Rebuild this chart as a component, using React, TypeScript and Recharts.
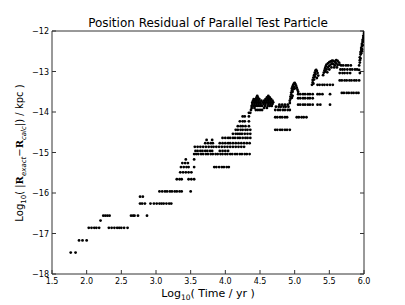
import { ScatterChart, Scatter, XAxis, YAxis } from 'recharts';

const X_TICKS = [1.5, 2.0, 2.5, 3.0, 3.5, 4.0, 4.5, 5.0, 5.5, 6.0];
const Y_TICKS = [-18, -17, -16, -15, -14, -13, -12];

// residuals sit on discrete levels: [log10 residual, log10 times...]
const earlyRuns: [number, number[]][] = [
  [-17.47, [1.77, 1.84]],
  [-17.17, [1.89, 1.94, 2.0]],
  [-16.86, [2.03, 2.07, 2.11, 2.14, 2.18, 2.32, 2.36, 2.4, 2.44, 2.47, 2.5, 2.54, 2.59]],
  [-16.68, [2.2]],
  [-16.56, [2.24, 2.27, 2.3, 2.33, 2.64, 2.67, 2.69, 2.74, 2.87]],
  [-16.26, [2.77, 2.8, 2.84, 2.92, 2.97, 3.01, 3.05, 3.08, 3.11, 3.15, 3.19, 3.22]],
  [-16.09, [2.77, 2.81]],
  [-15.96, [3.05, 3.09, 3.13, 3.16, 3.2, 3.23, 3.27, 3.3, 3.34, 3.37, 3.5]],
];

const midRuns: [number, number[]][] = [
  [-15.66, [3.3, 3.34, 3.37, 3.47, 3.51, 3.55]],
  [-15.49, [3.35, 3.39, 3.43, 3.47, 3.51]],
  [-15.36, [3.36, 3.4, 3.44, 3.47, 3.55, 3.84, 3.87, 3.91, 3.95, 3.98, 4.02, 4.05]],
  [-15.26, [3.38, 3.42, 3.46]],
  [-15.17, [3.43, 3.55]],
  [-15.04, [3.55, 3.58, 3.61, 3.65, 3.68, 3.72, 3.75, 3.79, 3.82, 3.86, 3.89, 3.93, 3.96, 4.0, 4.03, 4.07, 4.1, 4.14, 4.17, 4.21, 4.24, 4.28, 4.31, 4.35]],
  [-14.96, [3.57, 3.6, 3.64, 3.67, 3.71, 3.74, 3.78, 3.81, 3.92, 3.96, 4.0, 4.04]],
  [-14.86, [3.56, 3.6, 3.64, 3.68, 3.72, 3.76, 3.8, 3.83, 3.87, 3.91, 3.95, 3.99, 4.03, 4.07, 4.11, 4.15, 4.19, 4.23, 4.27]],
  [-14.77, [3.71, 3.75, 3.79, 3.82, 3.92, 3.96, 4.0, 4.04, 4.07, 4.11, 4.15, 4.19, 4.23, 4.27, 4.31, 4.35]],
  [-14.69, [3.73, 3.81]],
  [-14.64, [3.96, 4.0, 4.04, 4.07, 4.11, 4.14, 4.18, 4.21, 4.25, 4.29, 4.32, 4.36]],
  [-14.54, [4.11, 4.15, 4.18, 4.21, 4.24, 4.28, 4.32, 4.36]],
  [-14.44, [4.15, 4.18, 4.22, 4.25, 4.29, 4.32, 4.36]],
  [-14.35, [4.18, 4.22, 4.25, 4.29, 4.34]],
  [-14.23, [4.21, 4.25, 4.28, 4.34]],
  [-14.11, [4.25, 4.28, 4.34]],
  [-14.02, [4.34, 4.36]],
];

const lateRuns: [number, number[]][] = [
  [-14.44, [4.72, 4.75, 4.79, 4.82, 4.86, 4.89, 4.93]],
  [-14.13, [4.72, 4.75, 4.79, 4.82, 4.86, 4.89, 5.03, 5.06, 5.1, 5.13, 5.17]],
  [-13.95, [4.37, 4.44, 4.47, 4.5, 4.53, 4.72, 4.76, 4.79, 4.83, 4.86, 4.9, 4.93]],
  [-13.9, [4.38, 4.42, 4.56, 4.6]],
  [-13.87, [4.73, 4.77, 4.8, 4.84, 4.87, 4.91]],
  [-13.85, [4.38, 4.41, 4.44, 4.47, 4.5, 4.53, 4.57, 4.61, 4.64, 4.67]],
  [-13.82, [4.78, 4.82, 4.86, 4.9, 5.05, 5.08, 5.12, 5.15, 5.19, 5.22, 5.26, 5.33, 5.37, 5.51]],
  [-13.8, [4.39, 4.42, 4.45, 4.48, 4.51, 4.55, 4.58, 4.62, 4.65, 4.68]],
  [-13.76, [4.39, 4.42, 4.44, 4.47, 4.5, 4.54, 4.57, 4.6, 4.63, 4.66, 4.69]],
  [-13.72, [4.4, 4.43, 4.45, 4.48, 4.52, 4.56, 4.59, 4.62, 4.65, 4.68]],
  [-13.68, [4.41, 4.44, 4.46, 4.49, 4.58, 4.61, 4.63, 4.66]],
  [-13.66, [5.05, 5.08, 5.12, 5.15, 5.19, 5.22, 5.26]],
  [-13.64, [4.45, 4.47, 4.6, 4.62, 4.64]],
  [-13.6, [4.46, 4.62]],
  [-13.56, [5.05, 5.08, 5.12, 5.15, 5.19, 5.22, 5.26, 5.33, 5.36, 5.4, 5.51]],
  [-13.53, [5.68, 5.71, 5.75, 5.78, 5.82, 5.85, 5.89, 5.92]],
  [-13.33, [5.33, 5.36, 5.4, 5.43, 5.47, 5.51, 5.55]],
  [-13.22, [5.65, 5.68, 5.72, 5.75, 5.79, 5.82, 5.86, 5.89, 5.93]],
  [-13.04, [5.65, 5.69, 5.72, 5.76, 5.8, 5.94]],
  [-12.95, [5.66, 5.69, 5.72, 5.76, 5.8, 5.83, 5.87, 5.9]],
  [-12.85, [5.67, 5.7, 5.74, 5.77, 5.81]],
];

// steep clumps where the residual climbs between levels: [log10 time, log10 residual]
const clumps: [number, number][] = [
  [4.93, -13.78], [4.93, -13.72], [4.94, -13.67], [4.94, -13.62], [4.95, -13.57], [4.95, -13.52],
  [4.96, -13.47], [4.96, -13.42], [4.97, -13.37], [4.98, -13.33], [4.99, -13.3], [5.0, -13.28],
  [5.01, -13.31], [5.02, -13.35], [5.03, -13.4], [5.04, -13.45], [4.97, -13.5], [4.98, -13.44],
  [4.99, -13.38], [5.0, -13.42], [4.97, -13.6], [4.96, -13.65], [5.05, -13.5],
  [5.25, -13.33], [5.26, -13.27], [5.26, -13.21], [5.27, -13.15], [5.28, -13.09], [5.29, -13.03],
  [5.3, -12.98], [5.31, -12.96], [5.32, -12.99], [5.33, -13.04], [5.34, -13.1], [5.28, -13.2],
  [5.29, -13.13], [5.3, -13.07], [5.27, -13.3], [5.32, -13.16],
  [5.41, -13.09], [5.42, -13.03], [5.43, -12.97], [5.44, -12.92], [5.45, -12.87], [5.46, -12.83],
  [5.48, -12.8], [5.5, -12.77], [5.52, -12.75], [5.54, -12.73], [5.56, -12.74], [5.58, -12.76],
  [5.6, -12.72], [5.62, -12.74], [5.64, -12.78], [5.65, -12.83], [5.44, -13.0], [5.46, -12.95],
  [5.48, -12.9], [5.5, -12.86], [5.52, -12.83], [5.54, -12.8], [5.56, -12.82], [5.58, -12.85],
  [5.6, -12.8], [5.62, -12.84], [5.47, -13.02], [5.5, -12.95], [5.53, -12.9], [5.57, -12.9], [5.61, -12.9],
  [5.93, -12.96], [5.93, -12.85], [5.94, -12.78], [5.94, -12.72], [5.94, -12.65], [5.95, -12.58],
  [5.95, -12.52], [5.96, -12.47], [5.96, -12.42], [5.97, -12.37], [5.97, -12.32], [5.98, -12.27],
  [5.98, -12.22], [5.99, -12.17], [5.99, -12.12], [6.0, -12.07], [6.0, -12.02], [5.96, -12.55],
  [5.97, -12.45], [5.98, -12.35], [5.99, -12.25], [6.0, -12.15], [5.95, -12.68], [5.97, -12.5],
];

const points = [...earlyRuns, ...midRuns, ...lateRuns]
  .flatMap(([y, xs]) => xs.map((x) => ({ x, y })))
  .concat(clumps.map(([x, y]) => ({ x, y })));

const FONT = '"DejaVu Sans", sans-serif';
const FRAME = '#333';

const BottomTick = ({ x, y, payload }: any) => (
  <g>
    <line x1={x} y1={y} x2={x} y2={y - 4} stroke={FRAME} />
    <text x={x} y={y + 9.5} textAnchor="middle" fontSize={8} fontFamily={FONT} fill="#000">
      {payload.value.toFixed(1)}
    </text>
  </g>
);

const TopTick = ({ x, y }: any) => <line x1={x} y1={y} x2={x} y2={y + 4} stroke={FRAME} />;

const LeftTick = ({ x, y, payload }: any) => (
  <g>
    <line x1={x} y1={y} x2={x + 4} y2={y} stroke={FRAME} />
    <text x={x - 3} y={y + 3} textAnchor="end" fontSize={8} fontFamily={FONT} fill="#000">
      {`\u2212${Math.abs(payload.value)}`}
    </text>
  </g>
);

const RightTick = ({ x, y }: any) => <line x1={x} y1={y} x2={x - 4} y2={y} stroke={FRAME} />;

const Dot = (p: any) => <circle cx={p.cx} cy={p.cy} r={1.4} fill="#000" />;

export default function App() {
  const sub = { fontSize: 7, dy: 3 };
  const bold = { fontFamily: '"DejaVu Serif", serif', fontWeight: 'bold' as const };
  return (
    <div style={{ position: 'absolute', left: 0, top: 0, width: 405, height: 305, background: '#fff' }}>
      <ScatterChart width={405} height={305} margin={{ top: 0, right: 0, bottom: 0, left: 0 }}>
        <XAxis
          xAxisId="b"
          type="number"
          dataKey="x"
          domain={[1.5, 6]}
          ticks={X_TICKS}
          interval={0}
          allowDataOverflow
          height={31}
          tickSize={0}
          tickMargin={0}
          tick={<BottomTick />}
          axisLine={{ stroke: FRAME }}
        />
        <XAxis
          xAxisId="t"
          orientation="top"
          type="number"
          domain={[1.5, 6]}
          ticks={X_TICKS}
          interval={0}
          allowDataOverflow
          height={31}
          tickSize={0}
          tickMargin={0}
          tick={<TopTick />}
          axisLine={{ stroke: FRAME }}
        />
        <YAxis
          yAxisId="l"
          type="number"
          dataKey="y"
          domain={[-18, -12]}
          ticks={Y_TICKS}
          interval={0}
          allowDataOverflow
          width={52}
          tickSize={0}
          tickMargin={0}
          tick={<LeftTick />}
          axisLine={{ stroke: FRAME }}
        />
        <YAxis
          yAxisId="r"
          orientation="right"
          type="number"
          domain={[-18, -12]}
          ticks={Y_TICKS}
          interval={0}
          allowDataOverflow
          width={41}
          tickSize={0}
          tickMargin={0}
          tick={<RightTick />}
          axisLine={{ stroke: FRAME }}
        />
        <Scatter data={points} xAxisId="b" yAxisId="l" shape={Dot} isAnimationActive={false} />
      </ScatterChart>
      <svg width={405} height={305} style={{ position: 'absolute', left: 0, top: 0, pointerEvents: 'none' }}>
        <text x={208} y={27} textAnchor="middle" fontSize={12} fontFamily={FONT} fill="#000">
          Position Residual of Parallel Test Particle
        </text>
        <text x={208} y={297} textAnchor="middle" fontSize={11} fontFamily={FONT} fill="#000">
          Log<tspan fontSize={7.5} dy={3}>10</tspan>
          <tspan dy={-3}>( Time / yr )</tspan>
        </text>
        <text transform="translate(23,153) rotate(-90)" textAnchor="middle" fontSize={10} fontFamily={FONT} fill="#000">
          Log<tspan {...sub}>10</tspan>
          <tspan dy={-3}>( |</tspan>
          <tspan {...bold}>R</tspan>
          <tspan {...sub} fontStyle="italic">exact</tspan>
          <tspan dy={-3}>{'\u2212'}</tspan>
          <tspan {...bold}>R</tspan>
          <tspan {...sub} fontStyle="italic">calc</tspan>
          <tspan dy={-3}>|) / kpc )</tspan>
        </text>
      </svg>
    </div>
  );
}
